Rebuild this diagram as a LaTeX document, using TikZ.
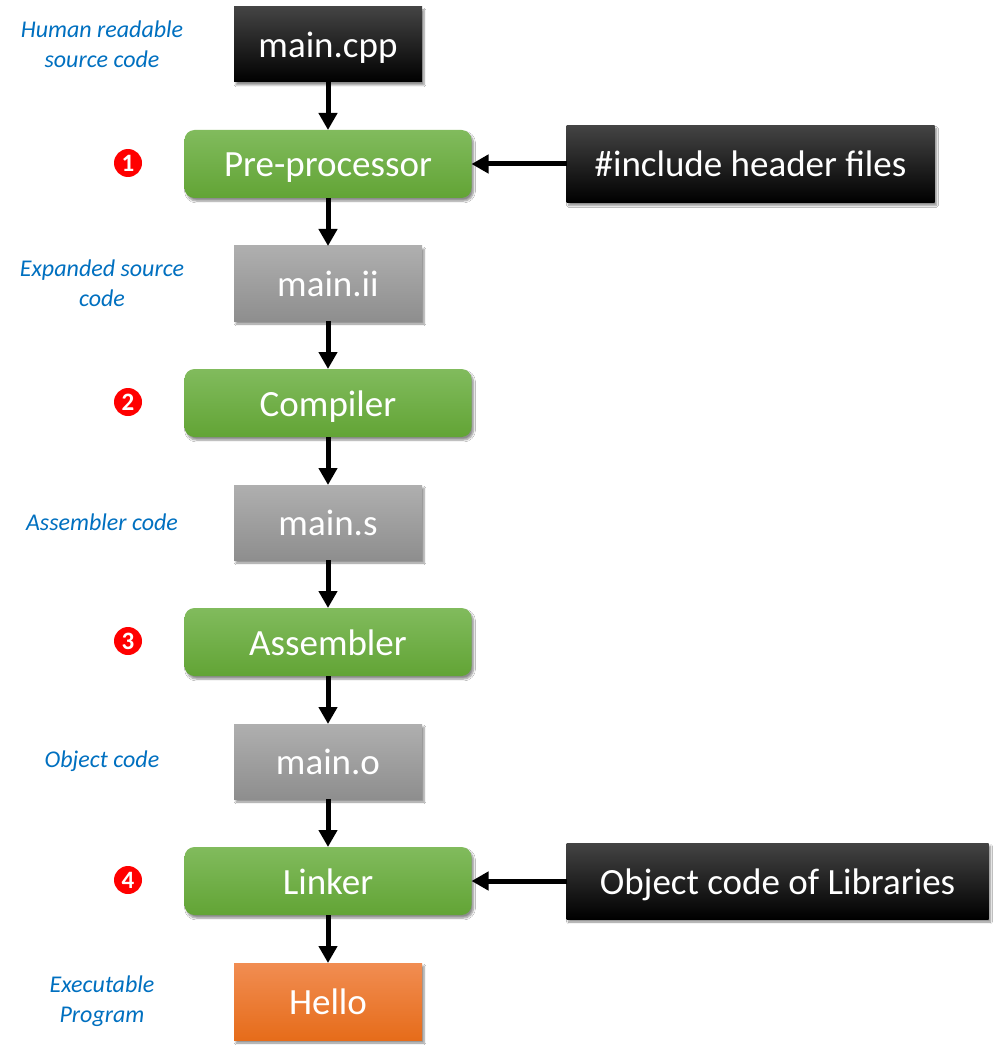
\documentclass[tikz,border=0pt]{standalone}
\usepackage{fontspec}
\setmainfont{Carlito}
\usetikzlibrary{shapes,arrows.meta,positioning,shadows,shadows.blur,calc}

\definecolor{greenTop}{RGB}{129,187,93}
\definecolor{greenBot}{RGB}{98,164,53}
\definecolor{grayTop}{RGB}{175,175,175}
\definecolor{grayBot}{RGB}{142,142,142}
\definecolor{darkTop}{RGB}{68,68,68}
\definecolor{orangeTop}{RGB}{241,141,82}
\definecolor{orangeMid}{RGB}{244,124,40}
\definecolor{orangeBot}{RGB}{230,108,26}
\definecolor{noteBlue}{RGB}{0,112,192}
\definecolor{numRed}{RGB}{255,0,0}

\begin{document}
\begin{tikzpicture}[node distance=48pt,
	box/.style={rectangle, inner sep=0pt, outer sep=0pt, minimum height=75pt, text=white,
		font=\fontsize{37}{40}\selectfont, text height=26pt, text depth=0pt,
		blur shadow={shadow xshift=2pt, shadow yshift=-3pt, shadow blur steps=6, shadow opacity=45}},
	srcbox/.style={box, minimum width=188pt, top color=darkTop, middle color=black, bottom color=black},
	filebox/.style={box, minimum width=188pt, top color=grayTop, bottom color=grayBot},
	stagebox/.style={box, minimum width=287pt, minimum height=68pt, rounded corners=10pt, top color=greenTop, bottom color=greenBot},
	exebox/.style={box, minimum width=188pt, minimum height=77pt, top color=orangeTop, middle color=orangeMid, bottom color=orangeBot},
	note/.style={align=center, text=noteBlue, font=\fontsize{24}{30}\selectfont\itshape},
	num/.style={circle, fill=numRed, minimum size=28pt, inner sep=0pt, text=white, font=\fontsize{25}{25}\selectfont\bfseries},
	flow/.style={line width=5pt, -{Triangle[length=17pt,width=18pt]}}]

	\fill[white] (0,0) rectangle (998pt,-1059pt);
	\useasboundingbox (0,0) rectangle (998pt,-1059pt);

	% main column
	\node[srcbox] (cpp) at (328pt,-44.5pt) {main.cpp};
	\node[stagebox, below=of cpp] (pre) {Pre-processor};
	\node[filebox, below=of pre] (ii) {main.ii};
	\node[stagebox, below=of ii] (comp) {Compiler};
	\node[filebox, below=of comp] (s) {main.s};
	\node[stagebox, below=of s] (asm) {Assembler};
	\node[filebox, below=of asm] (o) {main.o};
	\node[stagebox, below=of o] (link) {Linker};
	\node[exebox, below=of link] (hello) {Hello};

	% inputs on the right
	\node[srcbox, minimum width=368pt, minimum height=77pt, right=95pt of pre] (inc) {\#include header files};
	\node[srcbox, minimum width=422pt, minimum height=76pt, right=95pt of link] (libs) {Object code of Libraries};

	% step numbers
	\node[num] (n1) at ([xshift=-200pt,yshift=1pt]pre) {1};
	\node[num] (n2) at ([xshift=-200pt,yshift=1pt]comp) {2};
	\node[num] (n3) at ([xshift=-200pt,yshift=1pt]asm) {3};
	\node[num] (n4) at ([xshift=-200pt,yshift=1pt]link) {4};

	% notes on the left
	\node[note] (ncpp) at ([xshift=-226pt]cpp) {Human readable\\source code};
	\node[note] (nii) at ([xshift=-226pt]ii) {Expanded source\\code};
	\node[note] (ns) at ([xshift=-226pt]s) {Assembler code};
	\node[note] (no) at ([xshift=-226pt]o) {Object code};
	\node[note] (nhello) at ([xshift=-226pt]hello) {Executable\\Program};

	\draw[flow] (cpp) -- (pre);
	\draw[flow] (pre) -- (ii);
	\draw[flow] (ii) -- (comp);
	\draw[flow] (comp) -- (s);
	\draw[flow] (s) -- (asm);
	\draw[flow] (asm) -- (o);
	\draw[flow] (o) -- (link);
	\draw[flow] (link) -- (hello);
	\draw[flow] (inc.west) -- (inc.west -| pre.east);
	\draw[flow] (libs.west) -- (libs.west -| link.east);
\end{tikzpicture}
\end{document}
